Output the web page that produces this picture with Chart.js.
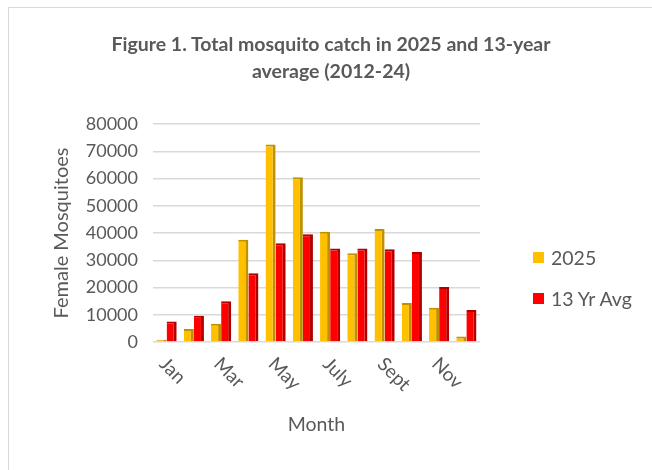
<!DOCTYPE html>
<html>
<head>
<meta charset="utf-8">
<script src="https://cdn.jsdelivr.net/npm/chart.js@4"></script>
<style>
  body { margin: 0; background: #fff; font-family: Lato, "Open Sans", sans-serif; }
  #wrap { position: relative; width: 652px; height: 470px; overflow: hidden; }
  #frame { position: absolute; left: 8px; top: 7px; width: 700px; height: 520px; border: 1px solid #d9d9d9; box-sizing: border-box; }
  #title { position: absolute; left: 0; width: 662px; top: 30px; text-align: center; font-weight: bold; font-size: 19.5px; line-height: 27px; color: #595959; }
  #legend { position: absolute; left: 533px; top: 243px; color: #595959; font-size: 19.5px; }
  .item { display: flex; align-items: center; height: 28px; margin-bottom: 13px; }
  .box { width: 11px; height: 11px; margin-right: 7px; }
  canvas { position: absolute; left: 0; top: 0; }
</style>
</head>
<body>
<div id="wrap">
  <div id="frame"></div>
  <canvas id="chart" width="652" height="470"></canvas>
  <div id="title">Figure 1. Total mosquito catch in 2025 and 13-year<br>average (2012-24)</div>
  <div id="legend"></div>
</div>
<script>
const months = ['Jan', 'Feb', 'Mar', 'Apr', 'May', 'June', 'July', 'Aug', 'Sept', 'Oct', 'Nov', 'Dec'];
const catch2025 = [800, 4800, 6700, 37500, 72500, 60500, 40500, 32600, 41500, 14300, 12600, 2000];
const avg13yr = [7500, 9600, 15000, 25200, 36200, 39500, 34300, 34300, 34000, 33000, 20200, 11700];
const yTicks = [0, 10000, 20000, 30000, 40000, 50000, 60000, 70000, 80000];

const series = [
  { label: '2025', data: catch2025, color: '#FFC000', side: '#BF9000' },
  { label: '13 Yr Avg', data: avg13yr, color: '#FF0000', side: '#B00000' }
];

// legend (html, like the excel one on the right)
const legendEl = document.getElementById('legend');
series.forEach(s => {
  legendEl.insertAdjacentHTML('beforeend',
    `<div class="item"><span class="box" style="background:${s.color}"></span>${s.label}</div>`);
});

// x labels drawn slanted downwards, every second month
const slantLabels = {
  id: 'slantLabels',
  afterDraw(chart) {
    const x = chart.scales.x;
    const c = chart.ctx;
    c.save();
    c.font = '19px Lato, "Open Sans", sans-serif';
    c.fillStyle = '#595959';
    c.textAlign = 'left';
    c.textBaseline = 'middle';
    months.forEach((m, i) => {
      if (i % 2) return;
      c.save();
      c.translate(x.getPixelForValue(i) - 4, x.top + 19);
      c.rotate(Math.PI / 4);
      c.fillText(m, 0, 0);
      c.restore();
    });
    c.restore();
  }
};

const font = { family: 'Lato, "Open Sans", sans-serif' };

new Chart(document.getElementById('chart'), {
  type: 'bar',
  data: {
    labels: months,
    datasets: series.map(s => ({
      label: s.label,
      data: s.data,
      backgroundColor: s.color,
      borderColor: s.side,
      borderWidth: { top: 2, right: 3, left: 0, bottom: 0 },
      borderSkipped: false,
      categoryPercentage: 0.74,
      barPercentage: 1
    }))
  },
  plugins: [slantLabels],
  options: {
    responsive: false,
    animation: false,
    layout: { padding: { top: 124, right: 172, bottom: 0, left: 40 } },
    plugins: { legend: { display: false }, tooltip: { enabled: false } },
    scales: {
      x: {
        grid: { display: false },
        border: { display: false },
        ticks: { display: false },
        afterFit: axis => { axis.height = 128; },
        title: { display: true, text: 'Month', color: '#595959', font: { ...font, size: 19.5 }, padding: { top: 4, bottom: 34 } }
      },
      y: {
        min: 0,
        max: 80000,
        afterBuildTicks: axis => { axis.ticks = yTicks.map(v => ({ value: v })); },
        afterFit: axis => { axis.width = 113; },
        grid: { color: '#d9d9d9', lineWidth: 1.5, drawTicks: false },
        border: { display: false },
        ticks: { color: '#595959', font: { ...font, size: 18 }, padding: 15, callback: v => String(v) },
        title: { display: true, text: 'Female Mosquitoes', color: '#595959', font: { ...font, size: 20 }, padding: { top: 10, bottom: 0 } }
      }
    }
  }
});
</script>
</body>
</html>
